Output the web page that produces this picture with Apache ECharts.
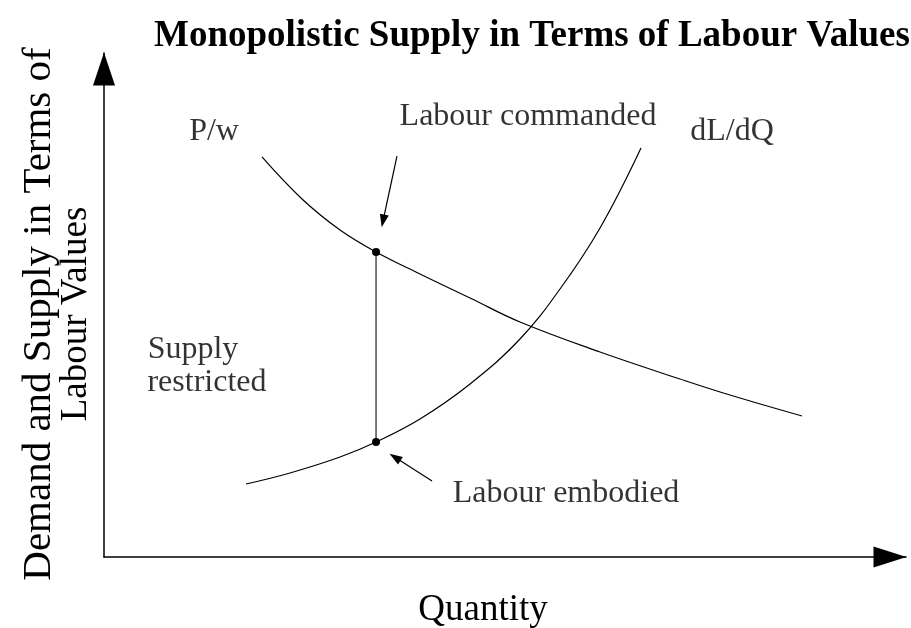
<!DOCTYPE html>
<html><head><meta charset="utf-8">
<script src="https://cdn.jsdelivr.net/npm/echarts@6/dist/echarts.min.js"></script>
<style>html,body{margin:0;padding:0;background:#fff}#c{width:911px;height:628px}</style>
</head><body><div id="c"></div>
<script>
const titleText = 'Monopolistic Supply in Terms of Labour Values';
const xAxisName = 'Quantity';
const yAxisNameLines = ['Demand and Supply in Terms of', 'Labour Values'];
// P/w (demand) curve
const demandCurve = [[19.70,79.37],[24.69,71.03],[29.43,64.88],[33.92,60.52],[39.40,56.15],[45.64,51.39],[51.87,46.63],[61.85,40.67],[71.82,35.32],[78.05,32.14],[87.03,27.98]];
// dL/dQ (supply) curve
const supplyCurve = [[17.71,14.48],[23.19,16.67],[29.43,19.84],[33.92,22.82],[39.40,27.38],[45.64,34.33],[51.87,43.25],[56.86,53.17],[61.85,65.28],[66.96,81.15]];
// restricted supply points
const restrictedPoints = [[33.92,60.52],[33.92,22.82]];
// annotation labels (centre positions in data units)
const labelNames = ['P/w','Labour commanded','dL/dQ','Supply','restricted','Labour embodied'];
const labelPos = [[13.72,84.33],[52.87,87.30],[78.30,84.33],[11.10,41.07],[12.84,34.52],[57.61,12.50]];
// annotation arrows [from, to]
const arrowLines = [[[36.53,79.56],[34.79,66.67]],[[40.90,15.08],[36.28,19.80]]];

const FONT = 'Liberation Serif';
const chart = echarts.init(document.getElementById('c'));
chart.setOption({
  animation: false,
  backgroundColor: '#fff',
  title: {
    text: titleText, left: 149, top: 13,
    textStyle: {fontFamily: FONT, fontWeight: 'bold', fontSize: 37, color: '#000'}
  },
  grid: {left: 104, right: 5, top: 53, bottom: 71, containLabel: false, outerBoundsMode: 'none'},
  xAxis: {
    type: 'value', min: 0, max: 100,
    name: xAxisName, nameLocation: 'middle', nameGap: 35,
    nameTextStyle: {fontFamily: FONT, fontSize: 37, color: '#000', padding: [0, 44, 0, 0]},
    axisLine: {onZero: false, lineStyle: {color: '#000', width: 1.5}, symbol: ['none', 'triangle'], symbolSize: [21, 33], symbolOffset: [0, -16]},
    axisTick: {show: false}, axisLabel: {show: false}, splitLine: {show: false}
  },
  yAxis: {
    type: 'value', min: 0, max: 100,
    name: '{a|' + yAxisNameLines[0] + '}\n{b|' + yAxisNameLines[1] + '}',
    nameLocation: 'middle', nameGap: 10, nameRotate: 90,
    nameTextStyle: {fontFamily: FONT, color: '#000', padding: [0, 18, 0, 0],
      rich: {
        a: {fontFamily: FONT, fontSize: 41, lineHeight: 38, color: '#000'},
        b: {fontFamily: FONT, fontSize: 37, lineHeight: 36, color: '#000'}
      }},
    axisLine: {onZero: false, lineStyle: {color: '#000', width: 1.5}, symbol: ['none', 'triangle'], symbolSize: [22, 33], symbolOffset: [0, -16]},
    axisTick: {show: false}, axisLabel: {show: false}, splitLine: {show: false}
  },
  series: [
    {type: 'line', name: 'P/w', data: demandCurve, smooth: 0.4, showSymbol: false, silent: true,
     lineStyle: {color: '#000', width: 1.2}},
    {type: 'line', name: 'dL/dQ', data: supplyCurve, smooth: 0.4, showSymbol: false, silent: true,
     lineStyle: {color: '#000', width: 1.2}},
    {type: 'line', name: 'restricted', data: restrictedPoints, symbol: 'circle', symbolSize: 8, silent: true,
     itemStyle: {color: '#000'}, lineStyle: {color: '#222', width: 1.2},
     markLine: {
       silent: true, symbol: ['none', 'triangle'], symbolSize: [9, 13],
       label: {show: false},
       lineStyle: {color: '#000', width: 1.2, type: 'solid'},
       data: arrowLines.map(a => [{coord: a[0]}, {coord: a[1]}])
     }},
    {type: 'scatter', name: 'labels', silent: true, symbolSize: 1,
     itemStyle: {color: 'rgba(0,0,0,0)'},
     data: labelPos.map((p, i) => ({name: labelNames[i], value: p})),
     label: {show: true, position: 'inside', formatter: p => p.name,
       fontFamily: FONT, fontSize: 32, color: '#000'}}
  ]
});
</script></body></html>
